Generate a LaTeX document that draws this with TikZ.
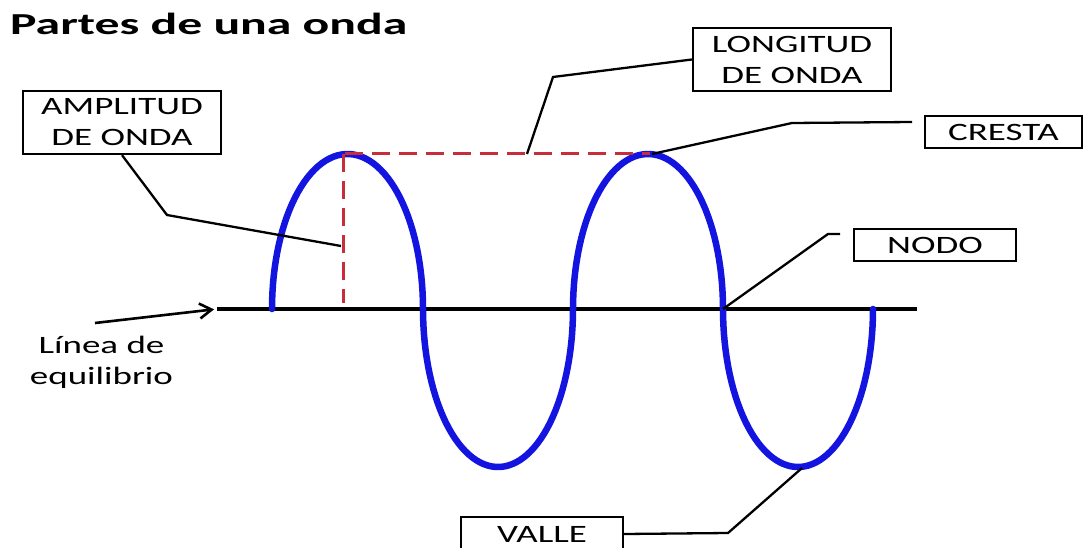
\documentclass[tikz,border=0pt]{standalone}
\usepackage{fontspec}
\newfontfamily\labfont[FakeStretch=1.48]{Carlito}
\newfontfamily\titlefont[FakeStretch=1.63]{Carlito}
\usetikzlibrary{arrows.meta}
\definecolor{waveblue}{RGB}{20,20,225}
\definecolor{dashred}{RGB}{200,45,60}
\tikzset{
  lbl/.style={draw=black, line width=2.3pt, inner sep=0pt, align=center,
    font=\labfont\fontsize{25}{31}\selectfont},
  plaintext/.style={inner sep=0pt, align=center, font=\labfont\fontsize{25}{31}\selectfont},
  leader/.style={line width=2.3pt, black},
  wave/.style={line width=6.5pt, waveblue, line cap=round, line join=round},
  reddash/.style={line width=3pt, dashred, dash pattern=on 18pt off 9pt},
  eqline/.style={line width=3.3pt, black},
}
\begin{document}
\begin{tikzpicture}[x=1pt,y=-1pt]
\fill[white] (0,0) rectangle (1083,548);
\useasboundingbox (0,0) rectangle (1083,548);

% title
\node[anchor=base west, inner sep=0pt, font=\titlefont\bfseries\fontsize{30.5}{36}\selectfont] (title) at (10,34.3) {Partes de una onda};

% points on the wave
\coordinate (eqL) at (217,309);
\coordinate (eqR) at (917,309);
\coordinate (crest1) at (345,154);
\coordinate (crest2) at (650,154);
\coordinate (foot) at (343,303);

% equilibrium line
\draw[eqline] (eqL) -- (eqR);

% wave (half ellipses)
\draw[wave]
  plot[domain=180:360, samples=60] ({347.5+75.5*cos(\x)},{309+155*sin(\x)})
  -- plot[domain=180:0, samples=60] ({498+75*cos(\x)},{309+158*sin(\x)})
  -- plot[domain=180:360, samples=60] ({648+75*cos(\x)},{309+155*sin(\x)})
  -- plot[domain=180:0, samples=60] ({798+75*cos(\x)},{309+158*sin(\x)});

% red dashed guides
\draw[reddash] (crest1) -- (crest2);
\draw[reddash] ([xshift=-2pt]crest1) -- (foot);

% labels
\node[lbl, minimum width=198pt, minimum height=63pt] (amp) at (122,122.5) {AMPLITUD\\DE ONDA};
\node[lbl, minimum width=198pt, minimum height=63pt] (long) at (792,59.5) {LONGITUD\\DE ONDA};
\node[lbl, minimum width=157pt, minimum height=32pt] (cresta) at (1003.5,132) {CRESTA};
\node[lbl, minimum width=162pt, minimum height=32pt] (nodo) at (935,245) {NODO};
\node[lbl, minimum width=162pt, minimum height=34pt] (valle) at (542,534) {VALLE};
\node[plaintext] (linea) at (101.5,362) {Línea de\\equilibrio};

% leader end points
\coordinate (ampT) at (341,246);
\coordinate (longT) at (527,154);
\coordinate (crestT) at (652,154);
\coordinate (crestE) at (912,122);
\coordinate (nodoT) at (723,309);
\coordinate (nodoE) at (840,234);
\coordinate (valleT) at (802,468);
\coordinate (arrS) at (95,323);

% leaders
\draw[leader] (amp.south) -- (167,215) -- (ampT);
\draw[leader] (long.west) -- (553,77) -- (longT);
\draw[leader] (crestT) -- (792,123) -- (crestE);
\draw[leader] (nodoT) -- (828,234) -- (nodoE);
\draw[leader] (valle.east) -- (728,533) -- (valleT);
\draw[leader, line width=2.6pt, shorten >=3pt, -{Straight Barb[length=12pt,width=15pt]}] (arrS) -- (eqL);
\end{tikzpicture}
\end{document}
